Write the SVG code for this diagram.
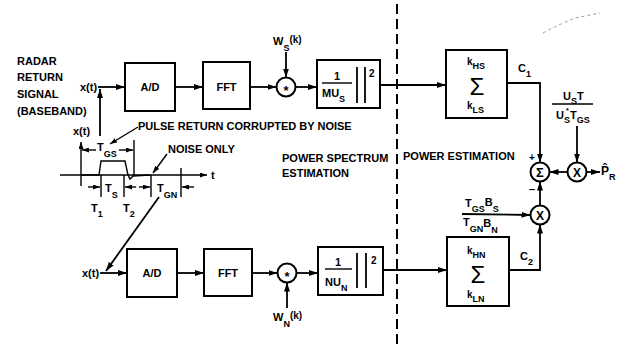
<svg xmlns="http://www.w3.org/2000/svg" width="618" height="354" viewBox="0 0 618 354">
<defs>
<marker id="ah" markerWidth="9" markerHeight="6" refX="9" refY="3" orient="auto" markerUnits="userSpaceOnUse"><path d="M0,0 L9,3 L0,6 z" fill="#000"/></marker>
<marker id="ahs" markerWidth="7" markerHeight="5" refX="7" refY="2.5" orient="auto" markerUnits="userSpaceOnUse"><path d="M0,0 L7,2.5 L0,5 z" fill="#000"/></marker>
</defs>
<style>
text{font-family:"Liberation Sans",Arial,sans-serif;font-weight:bold;font-size:11px;fill:#000}
.s{font-size:9px}
.c{text-anchor:middle}
.big{font-size:24px;font-weight:normal}
.box{fill:#fff;stroke:#000;stroke-width:2}
.ln{fill:none;stroke:#000;stroke-width:1.8}
.thin{fill:none;stroke:#000;stroke-width:1.4}
.arr{marker-end:url(#ah)}
.sar{marker-end:url(#ahs)}
.dash{fill:none;stroke:#000;stroke-width:2;stroke-dasharray:10 5}
</style>
<rect width="618" height="354" fill="#fff"/>

<g id="input-label">
<text x="17" y="65">RADAR</text>
<text x="17" y="81">RETURN</text>
<text x="17" y="98">SIGNAL</text>
<text x="17" y="115">(BASEBAND)</text>
</g>

<g id="waveform">
<text x="73" y="135">x(t)</text>
<line class="thin sar" x1="81" y1="186" x2="81" y2="142"/>
<line class="thin sar" x1="60" y1="175" x2="207" y2="175"/>
<text x="211" y="179">t</text>
<path class="thin" d="M81,175 L99,175 L101,161 L125,161 L128,175 L130,179 L133,176 L150,175"/>
<line class="thin" x1="134" y1="140" x2="134" y2="176"/>
<line class="thin sar" x1="96" y1="150" x2="82" y2="150"/>
<line class="thin sar" x1="119" y1="150" x2="133" y2="150"/>
<text x="97" y="151">T<tspan class="s" dy="6">GS</tspan></text>
<text x="138" y="130">PULSE RETURN CORRUPTED BY NOISE</text>
<line class="thin sar" x1="138" y1="127" x2="110" y2="144"/>
<text x="168" y="153">NOISE ONLY</text>
<line class="thin sar" x1="167" y1="154" x2="153" y2="173"/>
<line class="thin" x1="101" y1="175" x2="101" y2="197"/>
<line class="thin" x1="124" y1="175" x2="124" y2="197"/>
<line class="thin sar" x1="88" y1="187" x2="100" y2="187"/>
<line class="thin sar" x1="136" y1="187" x2="125" y2="187"/>
<text x="105" y="192">T<tspan class="s" dy="6">S</tspan></text>
<line class="thin" x1="151" y1="175" x2="151" y2="197"/>
<line class="thin" x1="181" y1="168" x2="181" y2="197"/>
<line class="thin sar" x1="139" y1="187" x2="150" y2="187"/>
<line class="thin sar" x1="194" y1="187" x2="182" y2="187"/>
<text x="157" y="192">T<tspan class="s" dy="6">GN</tspan></text>
<text x="91" y="212">T<tspan class="s" dy="5">1</tspan></text>
<text x="123" y="212">T<tspan class="s" dy="5">2</tspan></text>
</g>

<g id="sections">
<line class="dash" x1="397" y1="4" x2="397" y2="348"/>
<text x="282" y="162">POWER SPECTRUM</text>
<text x="282" y="177">ESTIMATION</text>
<text x="403" y="160">POWER ESTIMATION</text>
<path d="M543,33 Q560,24 575,18 L600,13" fill="none" stroke="#999" stroke-width="1" stroke-dasharray="3 3"/>
</g>

<g id="ad-top"><rect class="box" x="125" y="63" width="50" height="48"/><text class="c" x="150" y="91">A/D</text></g>
<g id="fft-top"><rect class="box" x="203" y="62" width="47" height="47"/><text class="c" x="226.5" y="91">FFT</text></g>
<g id="mult-top"><circle class="box" cx="286" cy="87" r="9.5"/><text class="c" x="286" y="95" style="font-size:13px">*</text></g>
<g id="ws-label"><text x="273" y="45">W<tspan class="s" dy="6">S</tspan><tspan style="font-size:10px" dy="-8">(k)</tspan></text></g>
<g id="norm-top">
<rect class="box" x="317" y="60" width="63" height="48"/>
<text class="c" x="337" y="80">1</text>
<line class="thin" x1="322" y1="83" x2="352" y2="83"/>
<text x="322" y="97">MU<tspan class="s" dy="5">S</tspan></text>
<line class="ln" x1="357" y1="67" x2="357" y2="103"/>
<line class="ln" x1="365" y1="67" x2="365" y2="103"/>
<text x="369" y="77" style="font-size:10px">2</text>
</g>
<g id="sum-top">
<rect class="box" x="446" y="50" width="61" height="68"/>
<text x="467" y="65" style="font-size:10px">k<tspan class="s" dy="4">HS</tspan></text>
<text class="c big" x="477" y="95">Σ</text>
<text x="467" y="109" style="font-size:10px">k<tspan class="s" dy="4">LS</tspan></text>
</g>

<g id="ad-bot"><rect class="box" x="127" y="249" width="50" height="48"/><text class="c" x="152" y="277">A/D</text></g>
<g id="fft-bot"><rect class="box" x="204" y="249" width="48" height="47"/><text class="c" x="228" y="277">FFT</text></g>
<g id="mult-bot"><circle class="box" cx="287" cy="273" r="9.5"/><text class="c" x="287" y="281" style="font-size:13px">*</text></g>
<g id="wn-label"><text x="273" y="321">W<tspan class="s" dy="6">N</tspan><tspan style="font-size:10px" dy="-8">(k)</tspan></text></g>
<g id="norm-bot">
<rect class="box" x="318" y="247" width="65" height="48"/>
<text class="c" x="338" y="266">1</text>
<line class="thin" x1="325" y1="269" x2="352" y2="269"/>
<text x="325" y="286">NU<tspan class="s" dy="5">N</tspan></text>
<line class="ln" x1="357" y1="253" x2="357" y2="288"/>
<line class="ln" x1="366" y1="253" x2="366" y2="288"/>
<text x="371" y="264" style="font-size:10px">2</text>
</g>
<g id="sum-bot">
<rect class="box" x="447" y="237" width="62" height="69"/>
<text x="467" y="254" style="font-size:10px">k<tspan class="s" dy="4">HN</tspan></text>
<text class="c big" x="478" y="283">Σ</text>
<text x="467" y="298" style="font-size:10px">k<tspan class="s" dy="4">LN</tspan></text>
</g>

<g id="sigma-node"><circle class="box" cx="540" cy="172" r="9.5"/><text class="c" x="540" y="177" style="font-size:13px">Σ</text></g>
<g id="x-out"><circle class="box" cx="577" cy="172" r="9.5"/><text class="c" x="577" y="176.5" style="font-size:12px">X</text></g>
<g id="x-mid"><circle class="box" cx="540" cy="215" r="9.5"/><text class="c" x="540" y="219.5" style="font-size:12px">X</text></g>
<g id="labels-right">
<text x="518" y="72">C<tspan class="s" dy="5">1</tspan></text>
<text x="520" y="260">C<tspan class="s" dy="5">2</tspan></text>
<text x="529" y="161" style="font-size:10px">+</text>
<text x="529" y="193">–</text>
<text x="563" y="100">U<tspan class="s" dy="4">S</tspan><tspan dy="-4">T</tspan></text>
<line class="thin" x1="552" y1="104" x2="593" y2="104"/>
<text x="556" y="119">U<tspan class="s" dy="4">S</tspan><tspan dy="-4">T</tspan><tspan class="s" dy="4">GS</tspan></text>
<text x="566" y="113" style="font-size:7px">*</text>
<text x="465" y="207">T<tspan class="s" dy="5">GS</tspan><tspan dy="-6">B</tspan><tspan class="s" dy="6">S</tspan></text>
<text x="463" y="226">T<tspan class="s" dy="6">GN</tspan><tspan dy="-5">B</tspan><tspan class="s" dy="6">N</tspan></text>
<text x="601" y="175" style="font-size:12px">P&#x302;<tspan class="s" dy="5">R</tspan></text>
</g>

<g id="connectors">
<line class="ln arr" x1="98" y1="87" x2="125" y2="87"/>
<text x="80" y="91">x(t)</text>
<line class="ln arr" x1="100" y1="136" x2="100" y2="89"/>
<line class="ln arr" x1="175" y1="87" x2="203" y2="87"/>
<line class="ln arr" x1="250" y1="87" x2="276.5" y2="87"/>
<line class="ln arr" x1="286" y1="52" x2="286" y2="77.5"/>
<line class="ln arr" x1="295.5" y1="87" x2="317" y2="87"/>
<line class="ln arr" x1="380" y1="85" x2="446" y2="85"/>
<polyline class="ln arr" points="507,83 540,83 540,162.5"/>
<line class="ln arr" x1="567.5" y1="172" x2="549.5" y2="172"/>
<line class="ln arr" x1="586.5" y1="172" x2="600" y2="172"/>
<line class="ln arr" x1="577" y1="126" x2="577" y2="162.5"/>
<line class="ln arr" x1="540" y1="205.5" x2="540" y2="181.5"/>
<line class="ln arr" x1="462" y1="214" x2="530.5" y2="215"/>
<polyline class="ln arr" points="509,270 540,270 540,224.5"/>
<text x="82" y="277">x(t)</text>
<line class="ln arr" x1="159" y1="197" x2="106" y2="271"/>
<line class="ln arr" x1="100" y1="273" x2="127" y2="273"/>
<line class="ln arr" x1="177" y1="273" x2="204" y2="273"/>
<line class="ln arr" x1="252" y1="273" x2="277.5" y2="273"/>
<line class="ln arr" x1="287" y1="308" x2="287" y2="282.5"/>
<line class="ln arr" x1="296.5" y1="273" x2="318" y2="273"/>
<line class="ln arr" x1="383" y1="270" x2="447" y2="270"/>
</g>
</svg>
